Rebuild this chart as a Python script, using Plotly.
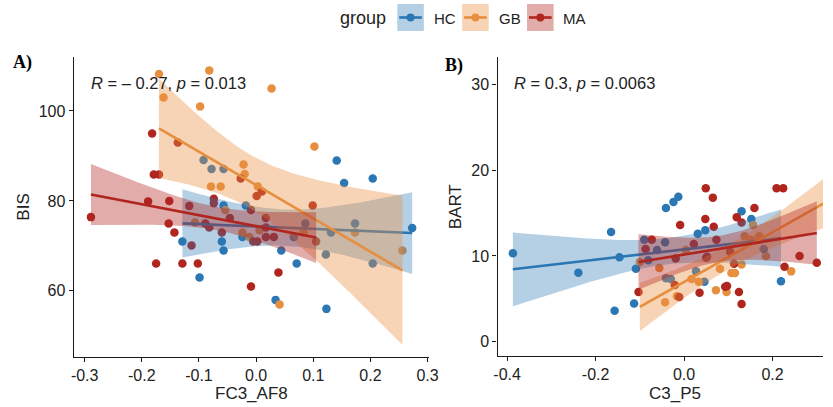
import numpy as np
import plotly.graph_objects as go

W, H = 833, 407

# ---------------- data ----------------
groups = ["HC", "GB", "MA"]

# Panel A: FC3_AF8 vs BIS
hc_a_x = [-0.129, -0.099, -0.092, -0.078, -0.057, -0.057, -0.018, -0.057, 0.044, 0.066, 0.071, 0.086,
          0.131, 0.122, 0.173, 0.204, 0.034, 0.123, 0.141, 0.154, 0.204, 0.273, -0.060, -0.024]
hc_a_y = [71.0, 63.0, 89.1, 87.1, 87.1, 79.0, 79.0, 69.0, 69.0, 72.0, 66.1, 75.0,
          73.0, 68.1, 75.0, 66.1, 58.0, 56.0, 89.0, 84.0, 85.0, 74.0, 71.0, 72.0]

gb_a_x = [-0.170, -0.162, -0.082, -0.098, 0.027, 0.102, -0.022, -0.020, -0.079, -0.062, 0.003, -0.054,
          -0.107, -0.024, -0.012, 0.083, 0.173, 0.256, 0.041, 0.006]
gb_a_y = [108.2, 103.0, 109.0, 101.0, 105.0, 92.1, 88.1, 86.0, 83.2, 83.2, 83.2, 78.0,
          75.2, 73.0, 72.0, 73.0, 73.0, 69.0, 57.0, 73.5]

ma_a_x = [-0.289, -0.189, -0.182, -0.179, -0.170, -0.175, -0.153, -0.152, -0.143, -0.137, -0.129, -0.117,
          -0.113, -0.102, -0.089, -0.082, -0.074, -0.074, -0.060, -0.046, -0.027, -0.009, -0.009, -0.005,
          0.002, 0.001, 0.010, 0.017, 0.017, 0.017, 0.031, 0.039, 0.099, 0.105]
ma_a_y = [76.4, 79.9, 95.0, 85.9, 85.9, 66.1, 75.0, 80.0, 73.0, 93.0, 66.1, 78.9,
          70.1, 66.1, 75.0, 74.1, 80.5, 79.5, 73.0, 76.2, 85.0, 78.0, 61.0, 71.0,
          71.0, 81.1, 82.1, 76.2, 74.1, 72.0, 72.0, 64.1, 79.0, 71.0]

# Panel B: C3_P5 vs BART
hc_b_x = [-0.387, -0.239, -0.165, -0.146, -0.109, -0.113, -0.157, -0.041, -0.024, -0.013, 0.130, 0.152,
          0.031, 0.048, 0.219, -0.041, -0.030, 0.027, 0.046, -0.090, -0.043, -0.061, 0.180, -0.081]
hc_b_y = [10.3, 8.05, 12.8, 9.84, 8.5, 4.44, 3.62, 15.6, 16.3, 16.9, 15.2, 14.3,
          12.6, 13.0, 7.04, 7.4, 7.3, 8.2, 7.0, 11.9, 11.6, 10.7, 10.8, 9.5]

gb_b_x = [-0.100, -0.056, -0.043, -0.016, 0.004, 0.017, 0.033, 0.072, 0.081, 0.096, 0.107, 0.115,
          0.130, 0.137, 0.152, 0.156, 0.170, 0.185, 0.242, 0.350, 0.380]
gb_b_y = [9.3, 8.6, 4.6, 5.3, 10.7, 7.3, 7.0, 6.0, 8.5, 5.8, 8.0, 8.0,
          9.0, 12.3, 11.9, 13.6, 12.3, 10.0, 8.2, 22.5, 21.5]

ma_b_x = [-0.103, -0.087, -0.073, -0.009, 0.048, 0.049, 0.065, 0.067, 0.119, 0.130, 0.159, 0.209,
          0.224, 0.093, 0.097, 0.124, 0.130, 0.035, -0.011, -0.021, 0.227, 0.261, 0.300, 0.022,
          0.073, -0.019, 0.050, 0.113, 0.104, 0.052]
ma_b_y = [5.8, 10.8, 11.9, 13.6, 14.3, 17.9, 16.8, 13.4, 14.5, 13.9, 15.6, 17.9,
          17.9, 6.4, 6.5, 5.8, 4.4, 5.7, 5.2, 6.6, 8.75, 10.0, 9.2, 11.4,
          11.9, 9.7, 9.8, 9.1, 10.5, 9.9]

panel_a = {"HC": (hc_a_x, hc_a_y), "GB": (gb_a_x, gb_a_y), "MA": (ma_a_x, ma_a_y)}
panel_b = {"HC": (hc_b_x, hc_b_y), "GB": (gb_b_x, gb_b_y), "MA": (ma_b_x, ma_b_y)}

a_xticks = [-0.3, -0.2, -0.1, 0.0, 0.1, 0.2, 0.3]
a_xticktext = ["-0.3", "-0.2", "-0.1", "0.0", "0.1", "0.2", "0.3"]
a_yticks = [60, 80, 100]
b_xticks = [-0.4, -0.2, 0.0, 0.2]
b_xticktext = ["-0.4", "-0.2", "0.0", "0.2"]
b_yticks = [0, 10, 20, 30]

stat_a = "<i>R</i> = – 0.27, <i>p</i> = 0.013"
stat_b = "<i>R</i> = 0.3, <i>p</i> = 0.0063"

# ---------------- style ----------------
colors = {"HC": "#2A77B4", "GB": "#E68F3F", "MA": "#B0261F"}
fills = {"HC": "rgba(42,119,180,0.35)", "GB": "rgba(236,143,63,0.38)", "MA": "rgba(176,38,31,0.38)"}
FONT = "Liberation Sans, Arial, sans-serif"


def tq(df):
    z = 1.959964
    return z + (z**3 + z) / (4 * df) + (5 * z**5 + 16 * z**3 + 3 * z) / (96 * df**2)


def fit(x, y, n=100):
    x = np.asarray(x, float)
    y = np.asarray(y, float)
    b, a = np.polyfit(x, y, 1)
    xs = np.linspace(x.min(), x.max(), n)
    res = y - (a + b * x)
    s = np.sqrt(res @ res / (len(x) - 2))
    sxx = ((x - x.mean()) ** 2).sum()
    se = s * np.sqrt(1 / len(x) + (xs - x.mean()) ** 2 / sxx)
    yh = a + b * xs
    t = tq(len(x) - 2)
    return xs, yh, yh - t * se, yh + t * se


fig = go.Figure()

for panel, xa, ya in [(panel_a, "x", "y"), (panel_b, "x2", "y2")]:
    for g in groups:
        x, y = panel[g]
        fig.add_trace(go.Scatter(x=x, y=y, mode="markers", xaxis=xa, yaxis=ya,
                                 marker=dict(size=8.5, color=colors[g], line=dict(width=0)),
                                 showlegend=False, hoverinfo="skip"))
    for g in groups:
        x, y = panel[g]
        xs, yh, lo, hi = fit(x, y)
        fig.add_trace(go.Scatter(x=np.concatenate([xs, xs[::-1]]), y=np.concatenate([lo, hi[::-1]]),
                                 mode="lines", fill="toself", fillcolor=fills[g], line=dict(width=0),
                                 xaxis=xa, yaxis=ya, showlegend=False, hoverinfo="skip"))
        fig.add_trace(go.Scatter(x=xs, y=yh, mode="lines", line=dict(color=colors[g], width=2.6),
                                 xaxis=xa, yaxis=ya, showlegend=False, hoverinfo="skip"))


def px(x):
    return x / W


def py(y):
    return 1 - y / H


axis_common = dict(showline=True, linecolor="#1a1a1a", linewidth=1.4, ticks="outside", ticklen=4,
                   tickwidth=1.2, tickcolor="#1a1a1a", showgrid=False, zeroline=False,
                   tickfont=dict(family=FONT, size=16, color="#222"))

fig.update_layout(
    width=W, height=H, margin=dict(l=0, r=0, t=0, b=0),
    plot_bgcolor="white", paper_bgcolor="white", showlegend=False,
    xaxis=dict(domain=[px(71), px(432)], range=[-0.319, 0.302], tickvals=a_xticks, ticktext=a_xticktext,
               anchor="y", **axis_common),
    yaxis=dict(domain=[py(357), py(57)], range=[45.3, 112], tickvals=a_yticks, anchor="x", **axis_common),
    xaxis2=dict(domain=[px(502), 1.0], range=[-0.4216, 0.314], tickvals=b_xticks, ticktext=b_xticktext,
                anchor="y2", **axis_common),
    yaxis2=dict(domain=[py(356), py(57)], range=[-1.67, 33.2], tickvals=b_yticks, anchor="x2", **axis_common),
)

ann = []


def text(x, y, s, size=16, xanchor="center", angle=0, family=FONT, color="#222"):
    ann.append(dict(x=px(x), y=py(y), xref="paper", yref="paper", text=s, showarrow=False,
                    xanchor=xanchor, yanchor="middle", textangle=angle,
                    font=dict(family=family, size=size, color=color)))


text(251.5, 393, "FC3_AF8", size=17)
text(682, 393, "C3_P5", size=17)
text(19, 207, "BIS", size=17, angle=-90)
text(459, 207, "BART", size=17, angle=-90)
text(86, 83, stat_a, size=16.5, xanchor="left")
text(517, 83, stat_b, size=16.5, xanchor="left")
text(7, 62, "<b>A)</b>", size=18, xanchor="left", family="Liberation Serif, Times New Roman, serif", color="black")
text(447, 65, "<b>B)</b>", size=18, xanchor="left", family="Liberation Serif, Times New Roman, serif", color="black")

# legend
text(391, 18, "group", size=18, xanchor="right")
shapes = []
boxes = {"HC": 400, "GB": 466, "MA": 532}
for g in groups:
    x0 = boxes[g]
    shapes.append(dict(type="rect", xref="paper", yref="paper", x0=px(x0), x1=px(x0 + 27), y0=py(31), y1=py(4),
                       fillcolor=fills[g], line=dict(width=0)))
    shapes.append(dict(type="line", xref="paper", yref="paper", x0=px(x0 + 2), x1=px(x0 + 25), y0=py(17.5),
                       y1=py(17.5), line=dict(color=colors[g], width=2.6)))
    shapes.append(dict(type="circle", xref="paper", yref="paper", x0=px(x0 + 9.5), x1=px(x0 + 17.5),
                       y0=py(21.5), y1=py(13.5), fillcolor=colors[g], line=dict(width=0)))
    text(x0 + 35, 18, g, size=15, xanchor="left")

fig.update_layout(annotations=ann, shapes=shapes)
fig.write_html("out.html", config={"displayModeBar": False},
               post_script="document.body.style.margin='0px';document.body.style.overflow='hidden';")
